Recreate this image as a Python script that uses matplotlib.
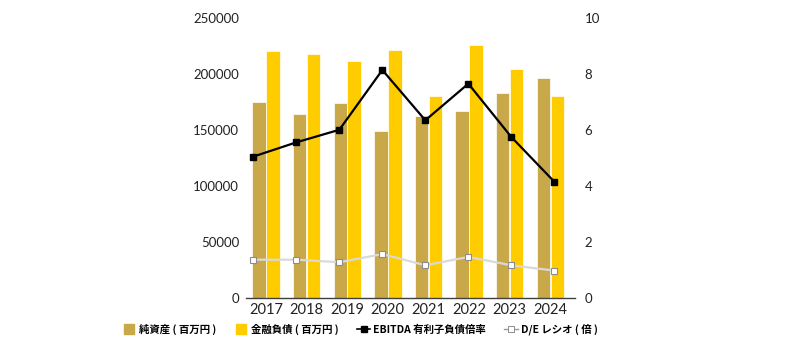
import matplotlib.pyplot as plt
import numpy as np
from matplotlib.lines import Line2D

years = ["2017", "2018", "2019", "2020", "2021", "2022", "2023", "2024"]
net_assets = [175000, 164000, 174000, 149000, 163000, 167000, 183000, 197000]
financial_debt = [221000, 218000, 212000, 221500, 180500, 226000, 205000, 180500]
ebitda_ratio = [5.05, 5.56, 6.01, 8.15, 6.35, 7.66, 5.75, 4.15]
de_ratio = [1.36, 1.36, 1.27, 1.56, 1.16, 1.46, 1.16, 0.97]

TAN = "#C8A848"
YELLOW = "#FFCC00"
LINE_GREY = "#D9D9D9"

num_font = ["Lato", "DejaVu Sans"]
jp_font = ["Noto Sans CJK JP", "DejaVu Sans"]

fig = plt.figure(figsize=(7.93, 3.46), dpi=100)
rect = [0.3102, 0.1396, 0.4149, 0.8075]

# bars on the primary axis
ax = fig.add_axes(rect)
x = np.arange(len(years))
w = 0.33
ax.bar(x - 0.172, net_assets, w, color=TAN, edgecolor="white", linewidth=0.5)
ax.bar(x + 0.172, financial_debt, w, color=YELLOW, edgecolor="white", linewidth=0.5)
ax.set_xlim(-0.493, 7.61)
ax.set_ylim(0, 250000)
ax.set_yticks(range(0, 250001, 50000))
ax.set_xticks(x)
ax.set_xticklabels(years, fontfamily=num_font, fontsize=10.5)
for lab in ax.get_yticklabels():
    lab.set_fontfamily(num_font)
    lab.set_fontsize(9.5)
ax.tick_params(axis="both", length=0, colors="#222222")
ax.tick_params(axis="y", pad=5)
ax.tick_params(axis="x", pad=4)
for side in ("left", "right", "top"):
    ax.spines[side].set_visible(False)
ax.spines["bottom"].set_color("#404040")
ax.spines["bottom"].set_linewidth(1.0)

# ratios on a secondary axis with its own category spacing
ax2 = fig.add_axes(rect, frameon=False)
ax2.plot(x, ebitda_ratio, color="black", linewidth=1.6, marker="s",
         markersize=5.0, markerfacecolor="black", markeredgecolor="black", zorder=3)
ax2.plot(x, de_ratio, color=LINE_GREY, linewidth=1.6, marker="s",
         markersize=5.0, markerfacecolor="white", markeredgecolor="#8C8C8C",
         markeredgewidth=0.8, zorder=3)
ax2.set_xlim(-0.17, 7.48)
ax2.set_ylim(0, 10)
ax2.set_yticks(range(0, 11, 2))
ax2.xaxis.set_visible(False)
ax2.yaxis.tick_right()
ax2.tick_params(axis="y", length=0, pad=7, colors="#222222")
for lab in ax2.get_yticklabels():
    lab.set_fontfamily(num_font)
    lab.set_fontsize(9.5)

handles = [
    Line2D([], [], linestyle="none", marker="s", markersize=6.8,
           markerfacecolor=TAN, markeredgecolor=TAN),
    Line2D([], [], linestyle="none", marker="s", markersize=6.8,
           markerfacecolor=YELLOW, markeredgecolor=YELLOW),
    Line2D([], [], color="black", linewidth=1.2, marker="s", markersize=4.5,
           markerfacecolor="black"),
    Line2D([], [], color="#9A9A9A", linewidth=1.0, marker="s", markersize=4.5,
           markerfacecolor="white", markeredgecolor="#8C8C8C", markeredgewidth=0.7),
]
labels = ["純資産 ( 百万円 )", "金融負債 ( 百万円 )", "EBITDA 有利子負債倍率", "D/E レシオ ( 倍 )"]
fig.legend(handles, labels, loc="center left", bbox_to_anchor=(0.154, 0.047),
           ncol=4, frameon=False, handlelength=1.3, handletextpad=0.3,
           columnspacing=1.75, borderpad=0, borderaxespad=0,
           prop={"family": jp_font, "size": 7.5, "weight": "bold"})

fig.savefig("out.png", dpi=100)
